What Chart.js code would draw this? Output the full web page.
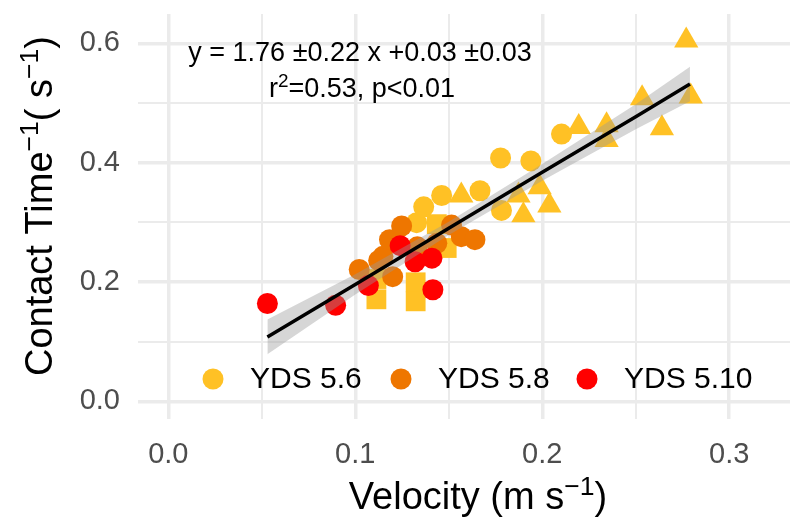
<!DOCTYPE html>
<html>
<head>
<meta charset="utf-8">
<script src="https://cdn.jsdelivr.net/npm/chart.js@4/dist/chart.umd.min.js"></script>
<style>
html, body { margin: 0; padding: 0; background: #fff; }
</style>
</head>
<body>
<canvas id="contact" width="804" height="525"></canvas>
<script>
// YDS 5.6 (yellow) - circles, triangles, squares
var y56CircX = [0.1328, 0.1366, 0.1462, 0.1667, 0.1777, 0.1939, 0.1782, 0.2103];
var y56CircY = [0.2995, 0.326, 0.345, 0.353, 0.408, 0.403, 0.320, 0.448];
var y56TriX = [0.1567, 0.1873, 0.1899, 0.1986, 0.2038, 0.2195, 0.2344, 0.2344, 0.2534, 0.264, 0.2794, 0.277];
var y56TriY = [0.345, 0.345, 0.312, 0.359, 0.3285, 0.460, 0.463, 0.438, 0.508, 0.458, 0.511, 0.605];
var y56SqX = [0.1113, 0.1113, 0.1323, 0.1323, 0.1436, 0.1489];
var y56SqY = [0.205, 0.171, 0.1995, 0.1676, 0.297, 0.257];

// YDS 5.8 (orange)
var y58X = [0.1021, 0.1125, 0.1148, 0.12, 0.1183, 0.1248, 0.1332, 0.1436, 0.1515, 0.1567, 0.164];
var y58Y = [0.221, 0.236, 0.243, 0.209, 0.271, 0.294, 0.259, 0.265, 0.2955, 0.276, 0.271];

// YDS 5.10 (red)
var y510X = [0.053, 0.0895, 0.107, 0.124, 0.132, 0.141, 0.1415];
var y510Y = [0.164, 0.161, 0.194, 0.261, 0.234, 0.240, 0.187];

// linear fit + confidence band
var fitX = [0.053, 0.1, 0.15, 0.2, 0.25, 0.279];
var fitY = [0.108, 0.196, 0.290, 0.384, 0.477, 0.532];
var fitLo = [0.079, 0.179, 0.279, 0.370, 0.456, 0.503];
var fitHi = [0.137, 0.213, 0.301, 0.398, 0.498, 0.561];

var groups = ["YDS 5.6", "YDS 5.8", "YDS 5.10"];
var groupColors = ["#FFC125", "#EE7600", "#FF0000"];

var xTicks = [0, 0.05, 0.1, 0.15, 0.2, 0.25, 0.3];
var xLabels = ["0.0", "", "0.1", "", "0.2", "", "0.3"];
var yTicks = [0, 0.1, 0.2, 0.3, 0.4, 0.5, 0.6];
var yLabels = ["0.0", "", "0.2", "", "0.4", "", "0.6"];

var FONT = "'Liberation Sans', Arial, sans-serif";

function pts(xs, ys) {
  return xs.map(function (x, i) { return { x: x, y: ys[i] }; });
}

// draws text pieces with superscripts, centered on x, baseline y
function supText(ctx, parts, x, y, size) {
  var sub = size * 0.7;
  var w = 0;
  parts.forEach(function (p) {
    ctx.font = (p.sup ? sub : size) + "px " + FONT;
    p.w = ctx.measureText(p.t).width;
    w += p.w;
  });
  var cx = x - w / 2;
  ctx.textAlign = "left";
  ctx.textBaseline = "alphabetic";
  parts.forEach(function (p) {
    ctx.font = (p.sup ? sub : size) + "px " + FONT;
    ctx.fillText(p.t, cx, p.sup ? y - size * 0.37 : y);
    cx += p.w;
  });
}

var extras = {
  id: "extras",
  afterDraw: function (chart) {
    var ctx = chart.ctx;
    ctx.save();
    ctx.fillStyle = "#000";

    // fit equation
    ctx.font = "27px " + FONT;
    ctx.textAlign = "center";
    ctx.textBaseline = "alphabetic";
    ctx.fillText("y = 1.76 \u00b10.22 x +0.03 \u00b10.03", 360, 61);
    supText(ctx, [{ t: "r" }, { t: "2", sup: true }, { t: "=0.53, p<0.01" }], 362, 97, 27);

    // legend
    var lx = [213, 401, 587];
    for (var i = 0; i < groups.length; i++) {
      ctx.fillStyle = groupColors[i];
      ctx.beginPath();
      ctx.arc(lx[i], 379, 10.5, 0, Math.PI * 2);
      ctx.fill();
      ctx.fillStyle = "#000";
      ctx.font = "30px " + FONT;
      ctx.textAlign = "left";
      ctx.textBaseline = "middle";
      ctx.fillText(groups[i], lx[i] + 37, 380);
    }

    // axis titles
    supText(ctx, [{ t: "Velocity (m s" }, { t: "\u22121", sup: true }, { t: ")" }], 478, 509, 38);
    ctx.translate(52, 206);
    ctx.rotate(-Math.PI / 2);
    supText(ctx, [{ t: "Contact Time" }, { t: "\u22121", sup: true }, { t: "( s" }, { t: "\u22121", sup: true }, { t: ")" }], 0, 0, 38);
    ctx.restore();
  }
};

new Chart("contact", {
  type: "scatter",
  data: {
    datasets: [
      { type: "line", data: pts(fitX, fitY), borderColor: "#000", borderWidth: 3.5, pointRadius: 0, fill: false, order: 0 },
      { type: "line", data: pts(fitX, fitHi), borderWidth: 0, borderColor: "rgba(0,0,0,0)", pointRadius: 0, fill: "+1", backgroundColor: "rgba(153,153,153,0.4)", order: 1 },
      { type: "line", data: pts(fitX, fitLo), borderWidth: 0, borderColor: "rgba(0,0,0,0)", pointRadius: 0, fill: false, order: 2 },
      { data: pts(y510X, y510Y), backgroundColor: groupColors[2], pointStyle: "circle", pointRadius: 10.5, borderWidth: 0, order: 3 },
      { data: pts(y58X, y58Y), backgroundColor: groupColors[1], pointStyle: "circle", pointRadius: 10.5, borderWidth: 0, order: 4 },
      { data: pts(y56SqX, y56SqY), backgroundColor: groupColors[0], pointStyle: "rect", pointRadius: 14, borderWidth: 0, order: 5 },
      { data: pts(y56TriX, y56TriY), backgroundColor: groupColors[0], pointStyle: "triangle", pointRadius: 14, borderWidth: 0, order: 5 },
      { data: pts(y56CircX, y56CircY), backgroundColor: groupColors[0], pointStyle: "circle", pointRadius: 10.5, borderWidth: 0, order: 5 }
    ]
  },
  options: {
    responsive: false,
    animation: false,
    events: [],
    layout: { padding: { top: 7, right: 0, left: 0, bottom: 0 } },
    plugins: { legend: { display: false }, tooltip: { enabled: false } },
    scales: {
      x: {
        type: "linear", min: -0.0162, max: 0.3325,
        afterBuildTicks: function (s) { s.ticks = xTicks.map(function (v) { return { value: v }; }); },
        afterFit: function (s) { s.height = 106; s.paddingLeft = 0; s.paddingRight = 0; },
        ticks: { autoSkip: false, maxRotation: 0, padding: 19, color: "#4D4D4D", font: { family: FONT, size: 29 },
          callback: function (v, i) { return xLabels[i]; } },
        grid: { color: "#EBEBEB", drawTicks: false, lineWidth: function (c) { return xLabels[c.index] ? 3.5 : 2; } },
        border: { display: false }
      },
      y: {
        type: "linear", min: -0.0297, max: 0.6494,
        afterBuildTicks: function (s) { s.ticks = yTicks.map(function (v) { return { value: v }; }); },
        afterFit: function (s) { s.width = 138; s.paddingTop = 0; s.paddingBottom = 0; },
        ticks: { autoSkip: false, padding: 18, color: "#4D4D4D", font: { family: FONT, size: 29 },
          callback: function (v, i) { return yLabels[i]; } },
        grid: { color: "#EBEBEB", drawTicks: false, lineWidth: function (c) { return yLabels[c.index] ? 3.5 : 2; } },
        border: { display: false }
      }
    }
  },
  plugins: [extras]
});
</script>
</body>
</html>
